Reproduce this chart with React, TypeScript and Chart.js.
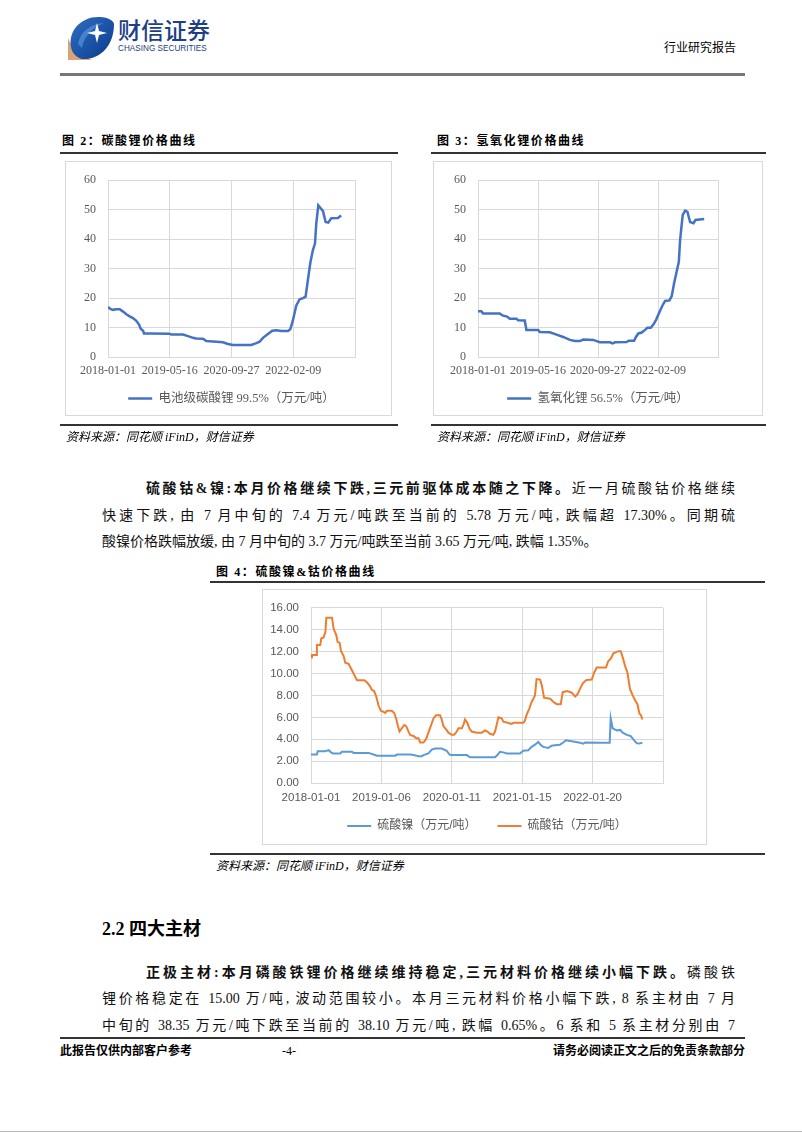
import React, { useEffect, useRef } from "react";
import { Chart, registerables } from "chart.js";

Chart.register(...registerables);

// ---------- Data (x = days since 2018-01-01) ----------
// 图2 电池级碳酸锂 99.5%（万元/吨）
const lcDays = [0, 17, 36, 60, 85, 109, 133, 157, 181, 205, 225, 237, 254, 261, 302, 447, 459, 543, 580, 616, 640, 688, 712, 785, 833, 869, 906, 1038, 1075, 1099, 1123, 1159, 1191, 1220, 1256, 1304, 1321, 1340, 1364, 1389, 1413, 1432, 1449, 1466, 1485, 1500, 1509, 1524, 1543, 1558, 1577, 1596, 1618, 1666, 1690];
const lcPrice = [17.0, 16.3, 16.0, 16.2, 16.2, 15.4, 14.5, 13.8, 13.2, 12.3, 11.0, 9.6, 8.9, 8.0, 8.0, 7.9, 7.6, 7.6, 7.1, 6.5, 6.3, 6.2, 5.4, 5.2, 5.0, 4.4, 4.1, 4.1, 4.7, 5.2, 6.5, 7.8, 8.9, 9.1, 8.8, 8.8, 9.4, 12.4, 17.4, 19.6, 20.0, 20.5, 26.3, 31.9, 36.3, 38.5, 45.1, 51.5, 50.4, 49.5, 45.8, 45.6, 47.1, 47.2, 48.0];

// 图3 氢氧化锂 56.5%（万元/吨）
const lhDays = [0, 25, 37, 162, 182, 217, 237, 287, 299, 349, 361, 449, 461, 536, 586, 635, 685, 723, 760, 785, 860, 885, 909, 984, 1004, 1022, 1109, 1124, 1164, 1179, 1196, 1221, 1246, 1263, 1288, 1308, 1328, 1353, 1375, 1395, 1428, 1445, 1463, 1483, 1498, 1507, 1517, 1527, 1545, 1562, 1572, 1582, 1607, 1622, 1687];
const lhPrice = [15.5, 15.5, 14.8, 14.8, 14.1, 13.7, 13.0, 13.0, 12.5, 12.4, 9.2, 9.2, 8.5, 8.4, 7.6, 6.8, 5.8, 5.4, 5.4, 5.9, 5.8, 5.4, 5.0, 5.0, 4.6, 5.0, 5.1, 5.5, 5.5, 6.9, 8.0, 8.3, 9.2, 9.9, 9.9, 11.0, 12.6, 15.2, 17.4, 19.0, 19.2, 20.7, 25.1, 29.3, 32.3, 39.5, 44.0, 48.2, 49.7, 49.3, 47.5, 45.8, 45.4, 46.5, 46.8];

// 图4 硫酸镍（万元/吨）
const niDays = [0, 30, 34, 73, 90, 102, 112, 149, 157, 208, 217, 293, 318, 335, 428, 437, 504, 521, 547, 563, 572, 597, 614, 631, 665, 690, 704, 711, 792, 809, 936, 948, 961, 978, 995, 1063, 1079, 1105, 1122, 1139, 1156, 1167, 1181, 1206, 1223, 1240, 1266, 1283, 1296, 1333, 1368, 1385, 1394, 1470, 1519, 1524, 1534, 1555, 1572, 1585, 1606, 1626, 1639, 1657, 1668, 1685];
const niPrice = [2.6, 2.6, 2.9, 2.9, 3.0, 2.8, 2.7, 2.7, 2.85, 2.85, 2.75, 2.75, 2.6, 2.5, 2.5, 2.6, 2.6, 2.55, 2.45, 2.45, 2.55, 2.7, 3.05, 3.15, 3.15, 2.95, 2.6, 2.55, 2.55, 2.35, 2.35, 2.55, 2.85, 2.8, 2.7, 2.7, 2.95, 3.0, 3.3, 3.5, 3.75, 3.5, 3.3, 3.2, 3.4, 3.45, 3.5, 3.7, 3.9, 3.8, 3.68, 3.6, 3.7, 3.68, 3.68, 5.92, 5.0, 4.8, 4.85, 4.6, 4.4, 4.28, 3.98, 3.62, 3.6, 3.68];

// 图4 硫酸钴（万元/吨）
const coDays = [0, 5, 27, 30, 47, 52, 64, 73, 78, 107, 115, 129, 135, 146, 152, 166, 174, 191, 208, 225, 234, 271, 284, 298, 310, 321, 332, 343, 355, 369, 377, 386, 411, 423, 433, 442, 450, 462, 474, 484, 496, 504, 521, 535, 547, 555, 572, 585, 597, 611, 623, 636, 656, 665, 673, 687, 699, 716, 728, 741, 750, 767, 775, 783, 795, 805, 817, 843, 868, 885, 897, 910, 927, 936, 944, 953, 970, 978, 1000, 1020, 1029, 1080, 1088, 1096, 1110, 1122, 1139, 1147, 1165, 1174, 1185, 1216, 1233, 1250, 1270, 1280, 1304, 1326, 1343, 1355, 1368, 1382, 1399, 1428, 1440, 1453, 1500, 1512, 1524, 1538, 1563, 1575, 1585, 1597, 1609, 1622, 1636, 1648, 1660, 1670, 1678, 1685];
const coPrice = [11.5, 11.7, 11.7, 12.6, 12.6, 13.2, 13.3, 13.8, 15.1, 15.1, 14.1, 13.5, 12.9, 12.8, 12.1, 11.6, 11.0, 10.9, 10.3, 9.7, 9.4, 9.4, 9.2, 8.9, 8.5, 8.4, 7.9, 7.1, 6.6, 6.5, 6.4, 6.6, 6.6, 6.4, 5.9, 5.2, 4.7, 5.0, 5.3, 5.2, 4.7, 4.4, 4.3, 4.1, 4.1, 3.7, 3.7, 4.0, 4.6, 5.3, 5.9, 6.2, 6.2, 5.8, 5.2, 4.9, 4.6, 4.4, 4.4, 4.7, 5.0, 5.0, 5.3, 5.8, 5.5, 5.0, 4.7, 4.6, 4.6, 4.8, 4.7, 4.5, 4.4, 4.7, 5.3, 6.0, 5.9, 5.6, 5.5, 5.4, 5.5, 5.5, 5.7, 6.2, 6.8, 7.4, 8.0, 9.5, 9.45, 8.9, 7.8, 7.7, 7.4, 7.2, 7.2, 8.3, 8.4, 8.25, 7.9, 8.1, 8.6, 9.1, 9.4, 9.45, 10.1, 10.55, 10.55, 11.15, 11.35, 11.85, 12.05, 12.05, 11.5, 10.7, 10.1, 8.6, 8.0, 7.55, 7.2, 6.35, 6.2, 5.8];

// Tick labels
const lithiumTickLabels = ["2018-01-01", "2019-05-16", "2020-09-27", "2022-02-09"];
const lithiumTickStep = 500;
const sulfateTickLabels = ["2018-01-01", "2019-01-06", "2020-01-11", "2021-01-15", "2022-01-20"];
const sulfateTickStep = 370;
const xMaxDays = 1790;

const lcLabel = "电池级碳酸锂 99.5%（万元/吨）";
const lhLabel = "氢氧化锂 56.5%（万元/吨）";
const niLabel = "硫酸镍（万元/吨）";
const coLabel = "硫酸钴（万元/吨）";

// ---------- Styling ----------
const SERIF = "'Liberation Serif', 'Noto Sans CJK SC', serif";
const SANS = "'Liberation Sans', 'Noto Sans CJK SC', sans-serif";
const GRID = "#d9d9d9";
const TICK = "#595959";

type Dims = {
  w: number; h: number;
  plotLeft: number; plotTop: number; plotRight: number; plotBottom: number;
  legendCenter: number; legendPad: number; legendFont: number;
  xTickPad: number; yTickPad: number; itemGap: string;
};

function toPoints(days: number[], vals: number[]) {
  return days.map((d, i) => ({ x: d, y: vals[i] }));
}

function buildConfig(
  dims: Dims,
  datasets: any[],
  family: string,
  tickFont: number,
  xLabels: string[],
  xStep: number,
  yMax: number,
  yStep: number,
  yFmt: (v: number) => string
): any {
  const xAxisH = dims.legendCenter - dims.legendFont / 2 - dims.legendPad - dims.plotBottom;
  const legendH = dims.legendFont + dims.legendPad + 10;
  const padBottom = dims.h - dims.plotBottom - xAxisH - legendH;
  return {
    type: "line",
    data: { datasets },
    options: {
      animation: false,
      responsive: false,
      devicePixelRatio: 1,
      layout: { padding: { left: 0, top: dims.plotTop, right: dims.w - dims.plotRight, bottom: padBottom } },
      plugins: {
        legend: {
          position: "bottom",
          fullSize: false,
          labels: {
            usePointStyle: true,
            pointStyle: "line",
            pointStyleWidth: 24,
            padding: dims.legendPad,
            color: TICK,
            font: { family, size: dims.legendFont },
            generateLabels: (chart: any) => {
              const items = Chart.defaults.plugins.legend.labels.generateLabels(chart);
              return items.map((it: any, i: number) => ({
                ...it,
                text: i < items.length - 1 ? it.text + dims.itemGap : it.text,
              }));
            },
          },
        },
        tooltip: { enabled: false },
      },
      elements: { point: { radius: 0 }, line: { tension: 0 } },
      scales: {
        x: {
          type: "linear",
          min: 0,
          max: xMaxDays,
          afterFit: (s: any) => { s.height = xAxisH; },
          ticks: {
            stepSize: xStep,
            includeBounds: false,
            autoSkip: false,
            maxRotation: 0,
            padding: dims.xTickPad,
            color: TICK,
            font: { family, size: tickFont },
            callback: (v: number) => xLabels[Math.round(v / xStep)] ?? "",
          },
          grid: { color: GRID, drawTicks: false, lineWidth: 1 },
          border: { color: GRID },
        },
        y: {
          min: 0,
          max: yMax,
          afterFit: (s: any) => { s.width = dims.plotLeft; },
          ticks: {
            stepSize: yStep,
            padding: dims.yTickPad,
            color: TICK,
            font: { family, size: tickFont },
            callback: (v: number) => yFmt(v),
          },
          grid: { color: GRID, drawTicks: false, lineWidth: 1 },
          border: { color: GRID },
        },
      },
    },
  };
}

function ChartBox({ left, top, w, h, config }: { left: number; top: number; w: number; h: number; config: () => any }) {
  const ref = useRef<HTMLCanvasElement>(null);
  useEffect(() => {
    const chart = new Chart(ref.current as HTMLCanvasElement, config());
    return () => chart.destroy();
  }, []);
  return (
    <div style={{ position: "absolute", left, top, width: w, height: h }}>
      <canvas ref={ref} width={w} height={h} style={{ display: "block", width: w, height: h }} />
      <div style={{ position: "absolute", left: 0, top: 0, width: w, height: h, boxSizing: "border-box", border: `1px solid ${GRID}`, pointerEvents: "none" }} />
    </div>
  );
}

function Txt({ x, y, size, children, style }: { x: number; y: number; size: number; children: any; style?: any }) {
  return (
    <div style={{ position: "absolute", left: x, top: y - size * 0.6, fontSize: size, lineHeight: `${size * 1.2}px`, whiteSpace: "nowrap", ...style }}>
      {children}
    </div>
  );
}

function JLine({ x, y, w, size, children, justify = true }: { x: number; y: number; w: number; size: number; children: any; justify?: boolean }) {
  return (
    <div
      style={{
        position: "absolute", left: x, top: y - size * 0.6, width: w, fontSize: size,
        lineHeight: `${size * 1.2}px`, whiteSpace: "nowrap", color: "#111",
        textAlign: justify ? "justify" : "left", textAlignLast: justify ? "justify" : "left",
      } as any}
    >
      {children}
    </div>
  );
}

function HLine({ x1, x2, y, t, color }: { x1: number; x2: number; y: number; t: number; color: string }) {
  return <div style={{ position: "absolute", left: x1, top: y - t / 2, width: x2 - x1, height: t, background: color }} />;
}

const BODY = "'Liberation Serif', 'Noto Sans CJK SC', serif";
const TITLE_STYLE = { fontWeight: 700, letterSpacing: "1.6px", fontFamily: BODY };
const SRC_STYLE = { fontStyle: "italic", fontFamily: BODY };

export default function App() {
  useEffect(() => {
    document.body.style.margin = "0";
  }, []);

  const lcDims: Dims = { w: 327, h: 255, plotLeft: 43, plotTop: 16, plotRight: 290, plotBottom: 196, legendCenter: 237.5, legendPad: 10, legendFont: 12.5, xTickPad: 7, yTickPad: 12, itemGap: "" };
  const lhDims: Dims = { w: 330, h: 255, plotLeft: 45, plotTop: 16, plotRight: 285, plotBottom: 196, legendCenter: 237.5, legendPad: 10, legendFont: 12.5, xTickPad: 7, yTickPad: 12, itemGap: "" };
  const coDims: Dims = { w: 445, h: 256, plotLeft: 49, plotTop: 15, plotRight: 401, plotBottom: 194, legendCenter: 237, legendPad: 15, legendFont: 12, xTickPad: 8, yTickPad: 12, itemGap: "\u3000" };

  const lcCfg = () =>
    buildConfig(lcDims, [{ label: lcLabel, data: toPoints(lcDays, lcPrice), borderColor: "#4472C4", backgroundColor: "#4472C4", borderWidth: 2.5, pointRadius: 0 }],
      SERIF, 12, lithiumTickLabels, lithiumTickStep, 60, 10, (v) => String(v));
  const lhCfg = () =>
    buildConfig(lhDims, [{ label: lhLabel, data: toPoints(lhDays, lhPrice), borderColor: "#4472C4", backgroundColor: "#4472C4", borderWidth: 2.5, pointRadius: 0 }],
      SERIF, 12, lithiumTickLabels, lithiumTickStep, 60, 10, (v) => String(v));
  const coCfg = () =>
    buildConfig(coDims, [
      { label: niLabel, data: toPoints(niDays, niPrice), borderColor: "#5B9BD5", backgroundColor: "#5B9BD5", borderWidth: 2, pointRadius: 0 },
      { label: coLabel, data: toPoints(coDays, coPrice), borderColor: "#ED7D31", backgroundColor: "#ED7D31", borderWidth: 2, pointRadius: 0 },
    ], SANS, 11.5, sulfateTickLabels, sulfateTickStep, 16, 2, (v) => v.toFixed(2));

  return (
    <div style={{ position: "absolute", left: 0, top: 0, width: 802, height: 1133, overflow: "hidden", background: "#fff", fontFamily: BODY, color: "#000" }}>
      {/* Header logo */}
      <svg style={{ position: "absolute", left: 68, top: 14 }} width={46} height={46} viewBox="0 0 46 46">
        <defs>
          <linearGradient id="lg" x1="0" y1="0" x2="1" y2="1">
            <stop offset="0" stopColor="#2f6fc4" />
            <stop offset="1" stopColor="#0b3a8c" />
          </linearGradient>
        </defs>
        <path d="M0 24 L0 46 L24 46 Q6 40 0 24 Z" fill="#d7a574" />
        <path d="M3 33 C0 16 14 2 32 3 C40 3 46 7 46 10 C46 32 32 46 14 45 C8 43 4 39 3 33 Z" fill="url(#lg)" />
        <path d="M10 30 C12 18 22 10 36 9 C24 14 16 22 14 34 Z" fill="#5e9be0" opacity="0.6" />
        <path d="M29 9 L31 17 L39 19 L31 21 L29 29 L27 21 L19 19 L27 17 Z" fill="#ffffff" />
      </svg>
      <Txt x={118} y={30} size={23} style={{ fontFamily: "'Noto Sans CJK SC', sans-serif", fontWeight: 500, color: "#1d3f86" }}>财信证券</Txt>
      <Txt x={118} y={49} size={8.2} style={{ fontFamily: "'Liberation Sans', sans-serif", color: "#1d3f86" }}>CHASING SECURITIES</Txt>
      <Txt x={664} y={48} size={12} style={{ fontFamily: BODY }}>行业研究报告</Txt>
      <HLine x1={60} x2={745} y={74.5} t={2.5} color="#777777" />

      {/* Figure 2 */}
      <Txt x={62} y={141} size={12} style={TITLE_STYLE}>图 2：碳酸锂价格曲线</Txt>
      <HLine x1={60} x2={398} y={153} t={1.5} color="#333333" />
      <ChartBox left={65} top={161} w={lcDims.w} h={lcDims.h} config={lcCfg} />
      <HLine x1={60} x2={398} y={425} t={1.5} color="#333333" />
      <Txt x={66} y={437} size={12} style={SRC_STYLE}>资料来源：同花顺 iFinD，财信证券</Txt>

      {/* Figure 3 */}
      <Txt x={437} y={141} size={12} style={TITLE_STYLE}>图 3：氢氧化锂价格曲线</Txt>
      <HLine x1={431} x2={766} y={153} t={1.5} color="#333333" />
      <ChartBox left={433} top={161} w={lhDims.w} h={lhDims.h} config={lhCfg} />
      <HLine x1={431} x2={766} y={425} t={1.5} color="#333333" />
      <Txt x={437} y={437} size={12} style={SRC_STYLE}>资料来源：同花顺 iFinD，财信证券</Txt>

      {/* Paragraph 1 */}
      <JLine x={146} y={489} w={589} size={14}>
        <b>硫酸钴&amp;镍:本月价格继续下跌,三元前驱体成本随之下降。</b>近一月硫酸钴价格继续
      </JLine>
      <JLine x={102} y={516} w={633} size={14}>
        快速下跌, 由 7 月中旬的 7.4 万元/吨跌至当前的 5.78 万元/吨, 跌幅超 17.30%。同期硫
      </JLine>
      <JLine x={102} y={542} w={633} size={14} justify={false}>
        酸镍价格跌幅放缓, 由 7 月中旬的 3.7 万元/吨跌至当前 3.65 万元/吨, 跌幅 1.35%。
      </JLine>

      {/* Figure 4 */}
      <Txt x={216} y={572} size={12} style={TITLE_STYLE}>图 4：硫酸镍&amp;钴价格曲线</Txt>
      <HLine x1={210} x2={765} y={582} t={1.5} color="#333333" />
      <ChartBox left={262} top={589} w={coDims.w} h={coDims.h} config={coCfg} />
      <HLine x1={210} x2={765} y={854} t={1.5} color="#333333" />
      <Txt x={216} y={866} size={12} style={SRC_STYLE}>资料来源：同花顺 iFinD，财信证券</Txt>

      {/* Section 2.2 */}
      <Txt x={102} y={930} size={18} style={{ fontWeight: 700 }}>2.2 四大主材</Txt>
      <JLine x={146} y={973} w={589} size={14}>
        <b>正极主材:本月磷酸铁锂价格继续维持稳定,三元材料价格继续小幅下跌。</b>磷酸铁
      </JLine>
      <JLine x={102} y={999} w={633} size={14}>
        锂价格稳定在 15.00 万/吨, 波动范围较小。本月三元材料价格小幅下跌, 8 系主材由 7 月
      </JLine>
      <JLine x={102} y={1026} w={633} size={14}>
        中旬的 38.35 万元/吨下跌至当前的 38.10 万元/吨, 跌幅 0.65%。6 系和 5 系主材分别由 7
      </JLine>

      {/* Footer */}
      <HLine x1={60} x2={745} y={1038} t={1.5} color="#333333" />
      <Txt x={60} y={1051} size={12} style={{ fontWeight: 700 }}>此报告仅供内部客户参考</Txt>
      <Txt x={282} y={1051} size={12}>-4-</Txt>
      <div style={{ position: "absolute", right: 802 - 745, top: 1051 - 7.2, fontSize: 12, lineHeight: "14.4px", fontWeight: 700, whiteSpace: "nowrap" }}>请务必阅读正文之后的免责条款部分</div>
      <HLine x1={0} x2={802} y={1131.5} t={1} color="#bbbbbb" />
    </div>
  );
}
